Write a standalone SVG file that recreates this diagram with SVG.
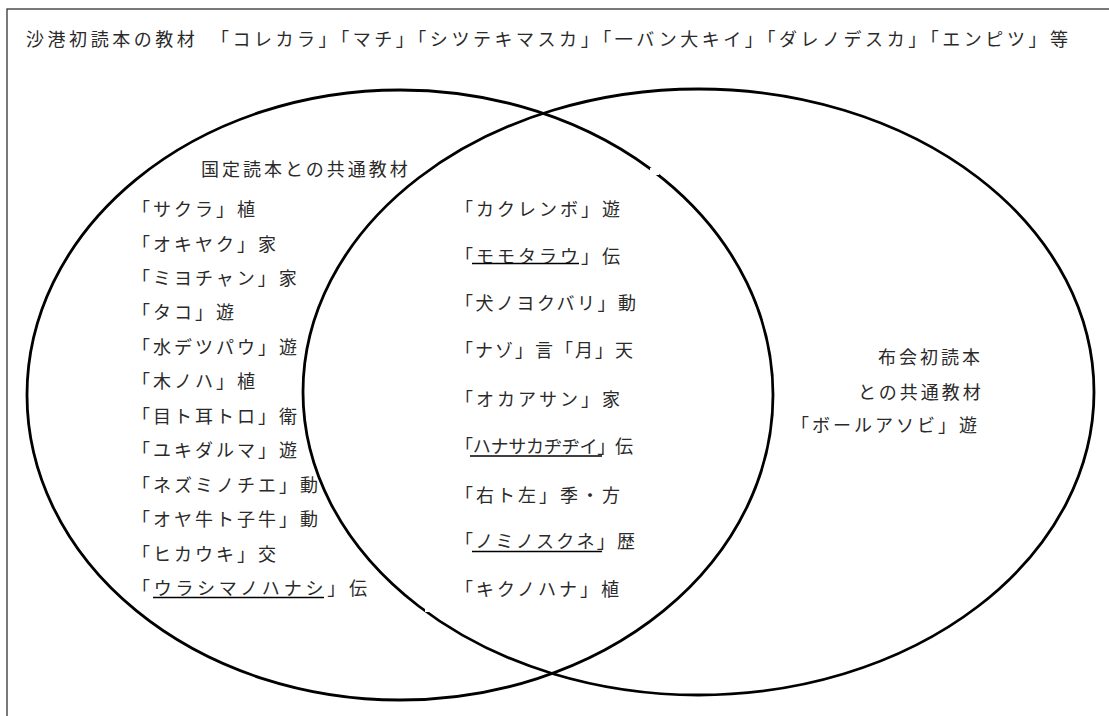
<svg xmlns="http://www.w3.org/2000/svg" width="1109" height="716" viewBox="0 0 1109 716">
  <style>
    .t { font-family: "Noto Sans CJK JP", "Liberation Serif", sans-serif; font-size: 18px; fill: #2a2a2a; dominant-baseline: central; }
    .ls { letter-spacing: 3px; }
    .set { fill: none; stroke: #000; stroke-width: 2.8; }
    .ul { stroke: #000; stroke-width: 1.6; }
    .frame { fill: none; stroke: #333; stroke-width: 1.3; }
  </style>
  <rect width="1109" height="716" fill="#fff"/>
  <g id="frame">
    <rect class="frame" x="7" y="9" width="1120" height="730"/>
  </g>
  <g id="title">
    <text class="t" x="26" y="38" textLength="1042" lengthAdjust="spacing">沙港初読本の教材　「コレカラ」「マチ」「シツテキマスカ」「一バン大キイ」「ダレノデスカ」「エンピツ」等</text>
  </g>
  <g id="set-kokutei">
    <ellipse class="set" cx="400" cy="395" rx="373" ry="305"/>
  </g>
  <g id="set-fukai">
    <ellipse class="set" cx="698.5" cy="392" rx="395.5" ry="303"/>
  </g>
  <g id="gaps" fill="#fff">
    <rect x="650" y="168" width="9" height="7"/>
    <rect x="425" y="604" width="9" height="8"/>
  </g>
  <g id="connectors"></g>
  <g id="left-labels">
    <text class="t ls" x="201" y="168">国定読本との共通教材</text>
    <text class="t ls" x="132" y="208">「サクラ」植</text>
    <text class="t ls" x="132" y="242.5">「オキヤク」家</text>
    <text class="t ls" x="132" y="277">「ミヨチャン」家</text>
    <text class="t ls" x="132" y="311.4">「タコ」遊</text>
    <text class="t ls" x="132" y="345.8">「水デツパウ」遊</text>
    <text class="t ls" x="132" y="380.3">「木ノハ」植</text>
    <text class="t ls" x="132" y="414.7">「目ト耳トロ」衛</text>
    <text class="t ls" x="132" y="449.2">「ユキダルマ」遊</text>
    <text class="t ls" x="132" y="483.6">「ネズミノチエ」動</text>
    <text class="t ls" x="132" y="518">「オヤ牛ト子牛」動</text>
    <text class="t ls" x="132" y="552.5">「ヒカウキ」交</text>
    <text class="t" x="132" y="587" textLength="235" lengthAdjust="spacing">「ウラシマノハナシ」伝</text>
    <line class="ul" x1="153" y1="597.5" x2="324" y2="597.5"/>
  </g>
  <g id="middle-labels">
    <text class="t ls" x="455" y="208">「カクレンボ」遊</text>
    <text class="t ls" x="455" y="255">「モモタラウ」伝</text>
    <line class="ul" x1="472" y1="263.5" x2="579" y2="263.5"/>
    <text class="t" x="455" y="302" textLength="181" lengthAdjust="spacing">「犬ノヨクバリ」動</text>
    <text class="t" x="455" y="349" textLength="178" lengthAdjust="spacing">「ナゾ」言「月」天</text>
    <text class="t ls" x="455" y="398">「オカアサン」家</text>
    <text class="t" x="455" y="445" textLength="178" lengthAdjust="spacing">「ハナサカヂヂイ」伝</text>
    <line class="ul" x1="470" y1="456" x2="602" y2="456"/>
    <text class="t ls" x="455" y="494">「右ト左」季・方</text>
    <text class="t" x="455" y="540" textLength="180" lengthAdjust="spacing">「ノミノスクネ」歴</text>
    <line class="ul" x1="472" y1="551.5" x2="602" y2="551.5"/>
    <text class="t ls" x="455" y="588">「キクノハナ」植</text>
  </g>
  <g id="right-labels">
    <text class="t ls" x="878" y="356">布会初読本</text>
    <text class="t ls" x="858" y="391">との共通教材</text>
    <text class="t ls" x="791" y="424">「ボールアソビ」遊</text>
  </g>
</svg>
